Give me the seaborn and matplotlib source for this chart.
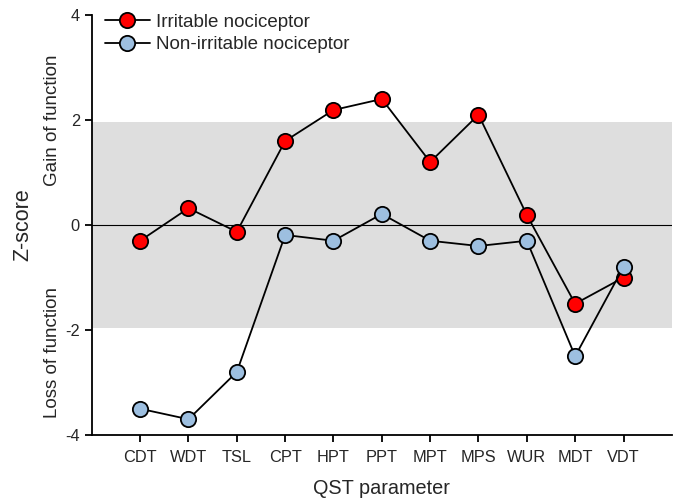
import matplotlib
matplotlib.use("Agg")
import matplotlib.pyplot as plt
import seaborn as sns
import pandas as pd

params = ["CDT", "WDT", "TSL", "CPT", "HPT", "PPT", "MPT", "MPS", "WUR", "MDT", "VDT"]
irritable = [-0.30, 0.32, -0.13, 1.60, 2.19, 2.40, 1.20, 2.10, 0.19, -1.50, -1.00]
non_irritable = [-3.50, -3.70, -2.80, -0.19, -0.30, 0.21, -0.30, -0.40, -0.30, -2.50, -0.80]
band = (-1.96, 1.96)

sns.set_style("ticks")
plt.rcParams["font.family"] = ["Liberation Sans", "DejaVu Sans"]

fig = plt.figure(figsize=(6.8, 5.0), dpi=100)
ax = fig.add_axes([0.135, 0.13, 0.853, 0.84])

ax.axhspan(band[0], band[1], color="#dedede", zorder=0, lw=0)
ax.axhline(0, color="black", lw=0.8, zorder=1)

df_i = pd.DataFrame({"param": params, "z": irritable})
df_n = pd.DataFrame({"param": params, "z": non_irritable})

sns.lineplot(data=df_i, x="param", y="z", sort=False, ax=ax, color="black", lw=1.3,
             marker="o", markersize=11, markerfacecolor="#ff0000", markeredgecolor="black",
             markeredgewidth=1.3, label="Irritable nociceptor", zorder=3)
sns.lineplot(data=df_n, x="param", y="z", sort=False, ax=ax, color="black", lw=1.3,
             marker="o", markersize=11, markerfacecolor="#9dbfe0", markeredgecolor="black",
             markeredgewidth=1.3, label="Non-irritable nociceptor", zorder=4)

ax.set_xlim(-1, 11)
ax.set_ylim(-4, 4)
ax.set_yticks([-4, -2, 0, 2, 4])
ax.set_yticklabels(["-4", "-2", "0", "2", "4"])
ax.set_xticks(range(len(params)))
ax.set_xticklabels(params)
ax.tick_params(axis="both", labelsize=11.8, length=5, width=1.3, direction="out", color="black")
ax.tick_params(axis="x", pad=6)
for s in ["top", "right"]:
    ax.spines[s].set_visible(False)
for s in ["left", "bottom"]:
    ax.spines[s].set_linewidth(1.3)
    ax.spines[s].set_color("black")

ax.set_xlabel("QST parameter", fontsize=14.3, labelpad=10)
ax.set_ylabel("")
fig.text(0.033, 0.55, "Z-score", rotation=90, fontsize=15.5, ha="center", va="center")
fig.text(0.077, 0.76, "Gain of function", rotation=90, fontsize=13.5, ha="center", va="center")
fig.text(0.077, 0.296, "Loss of function", rotation=90, fontsize=13.5, ha="center", va="center")

leg = ax.legend(loc="upper left", bbox_to_anchor=(0.0, 1.035), frameon=False, fontsize=13.5,
                handlelength=2.4, handletextpad=0.3, labelspacing=0.3, borderaxespad=0.3)

fig.savefig("out.png", dpi=100)
